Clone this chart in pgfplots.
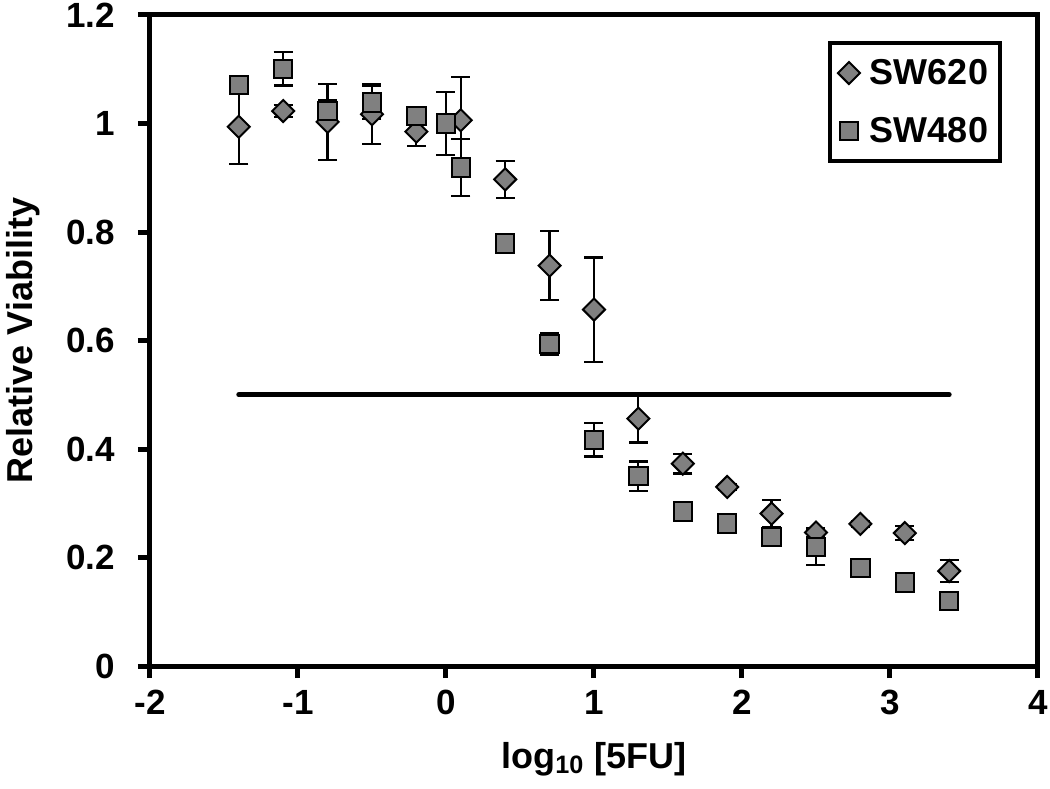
\documentclass[border=0pt]{standalone}
\usepackage{pgfplots}
\usepackage{pgfplotstable}
\pgfplotsset{compat=1.18}
\usepackage{fontspec}
\setmainfont{Liberation Sans}
\definecolor{mk}{RGB}{128,128,128}

\pgfplotstableread{
x y e
-1.4 0.994 0.068
-1.1 1.023 0.011
-0.8 1.003 0.070
-0.5 1.017 0.055
-0.2 0.985 0.026
0.1 1.006 0.079
0.4 0.897 0.034
0.7 0.738 0.064
1.0 0.657 0.096
1.3 0.456 0.044
1.6 0.373 0.018
1.9 0.330 0.005
2.2 0.281 0.025
2.5 0.246 0.008
2.8 0.262 0.005
3.1 0.245 0.013
3.4 0.175 0.020
}\swsixtwenty

\pgfplotstableread{
x y e
-1.4 1.071 0.005
-1.1 1.101 0.031
-0.8 1.023 0.020
-0.5 1.039 0.030
-0.2 1.014 0.010
0.0 1.000 0.058
0.1 0.919 0.052
0.4 0.779 0.005
0.7 0.594 0.020
1.0 0.417 0.031
1.3 0.350 0.027
1.6 0.285 0.005
1.9 0.263 0.005
2.2 0.238 0.010
2.5 0.219 0.033
2.8 0.181 0.005
3.1 0.154 0.010
3.4 0.120 0.005
}\swfoureighty

\begin{document}
\begin{tikzpicture}
\begin{axis}[
  at={(0,0)}, anchor=south west,
  scale only axis, width=444pt, height=325.5pt,
  xmin=-2, xmax=4, ymin=0, ymax=1.2,
  xtick={-2,-1,0,1,2,3,4},
  ytick={0,0.2,0.4,0.6,0.8,1,1.2},
  xtick pos=bottom, ytick pos=left, tick align=outside,
  major tick length=6pt,
  axis line style={line width=2.5pt},
  major tick style={draw=black, line width=2.5pt},
  /pgf/number format/assume math mode=true,
  ticklabel style={font=\fontsize{17.5}{20}\selectfont\bfseries},
  xticklabel style={anchor=base, yshift=-18pt},
  yticklabel style={anchor=east, xshift=-8pt},
  label style={font=\fontsize{18}{21}\selectfont\bfseries},
  xlabel={log\textsubscript{10} [5FU]},
  xlabel style={at={(axis description cs:0.5,-0.157)}, anchor=base},
  ylabel={Relative Viability},
  ylabel style={at={(axis description cs:-0.1318,0.5)}, anchor=base},
  clip=false,
  legend style={at={(0.9595,0.9601)}, anchor=north east, draw=black, line width=2pt,
    font=\fontsize{18}{21}\selectfont\bfseries, inner xsep=4pt, inner ysep=6pt,
    row sep=11pt, column sep=3pt},
  legend cell align=left,
  legend image code/.code={\draw[#1] plot coordinates {(6pt,0pt)};},
]
\pgfplotsinvokeforeach{-2,-1,0,1,2,3,4}{
  \draw[black, line width=2.5pt] (axis cs:#1,0) -- ++(0pt,-6pt);}
\pgfplotsinvokeforeach{0,0.2,0.4,0.6,0.8,1,1.2}{
  \draw[black, line width=2.5pt] (axis cs:-2,#1) -- ++(-6pt,0pt);}

\addplot[black, line width=2.5pt, line cap=round, forget plot] coordinates {(-1.4,0.5) (3.4,0.5)};

\addplot[forget plot, only marks, mark=none,
  error bars/.cd, y dir=both, y explicit,
  error bar style={line width=1.1pt, black},
  error mark options={line width=1.1pt, black, mark size=4.75pt, rotate=90}]
  table[x=x, y=y, y error=e]{\swsixtwenty};
\addplot[forget plot, only marks, mark=none,
  error bars/.cd, y dir=both, y explicit,
  error bar style={line width=1.1pt, black},
  error mark options={line width=1.1pt, black, mark size=4.75pt, rotate=90}]
  table[x=x, y=y, y error=e]{\swfoureighty};

\addplot[only marks, mark=square*, mark size=3.9pt,
  mark options={rotate=45, fill=mk, draw=black, line width=1pt}]
  table[x=x, y=y]{\swsixtwenty};
\addlegendentry{SW620}
\addplot[only marks, mark=square*, mark size=4.6pt,
  mark options={fill=mk, draw=black, line width=1pt}]
  table[x=x, y=y]{\swfoureighty};
\addlegendentry{SW480}
\end{axis}
\pgfresetboundingbox
\path (-75pt,-61pt) rectangle (450pt,333pt);
\end{tikzpicture}
\end{document}
